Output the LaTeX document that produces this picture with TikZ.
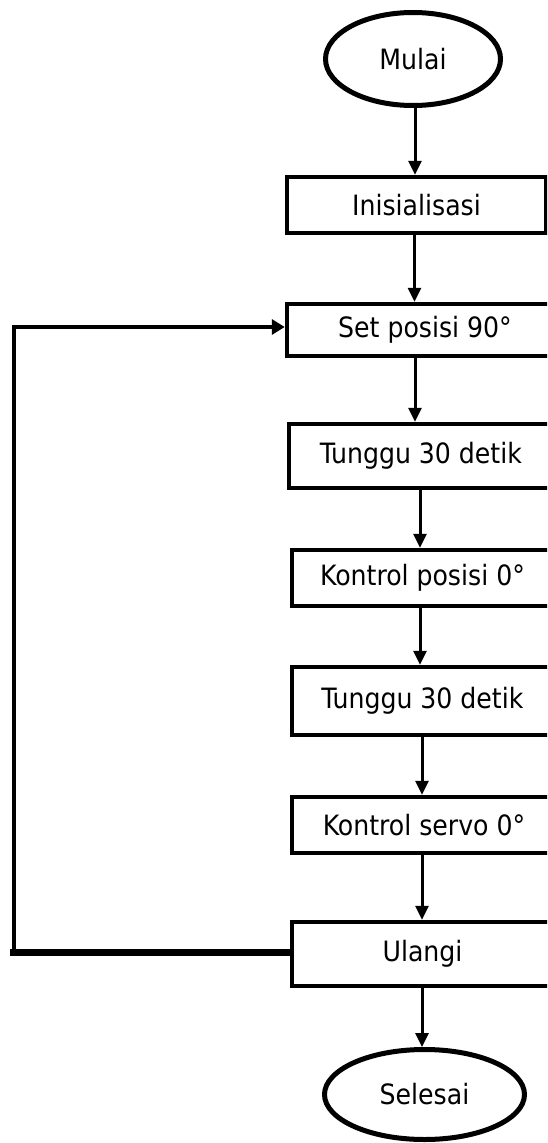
\documentclass[tikz,border=0pt]{standalone}
\usepackage{fontspec}
\setmainfont{DejaVu Sans Condensed}
\usetikzlibrary{arrows.meta,shapes.geometric}

\tikzset{
  every node/.style={font=\fontsize{28}{34}\selectfont, inner sep=0pt},
  terminal/.style={ellipse, draw, line width=5pt},
  process/.style={rectangle, draw, line width=4.5pt},
  arr/.style={line width=3pt, -{Triangle[length=14pt,width=13pt]}},
  looparr/.style={line width=4.5pt, -{Triangle[length=13pt,width=15pt]}},
  loopthin/.style={line width=4.5pt},
  loopthick/.style={line width=7pt},
}

\begin{document}
\begin{tikzpicture}[x=1pt,y=-1pt]
\useasboundingbox (0,0) rectangle (547,1143);
\clip (0,0) rectangle (547,1143);

% flow nodes
\node[terminal, minimum width=175, minimum height=93] (mulai) at (413,59) {Mulai};
\node[process, minimum width=259, minimum height=56] (init) at (416.5,205) {Inisialisasi};
\node[process, minimum width=276, minimum height=52] (set) at (425,330) {Set posisi 90°};
\node[process, minimum width=264, minimum height=64] (tunggua) at (421,456) {Tunggu 30 detik};
\node[process, minimum width=261, minimum height=56] (kpos) at (422.5,578) {Kontrol posisi 0°};
\node[process, minimum width=261, minimum height=68] (tunggub) at (422.5,701) {Tunggu 30 detik};
\node[process, minimum width=264, minimum height=56] (kservo) at (424,825) {Kontrol servo 0°};
\node[process, minimum width=261, minimum height=64] (ulangi) at (422.5,954) {Ulangi};
\node[terminal, minimum width=200, minimum height=90] (selesai) at (424.5,1094.5) {Selesai};

% main flow
\draw[arr] ([xshift=2]mulai.south) -- ([xshift=2]mulai.south |- init.north);
\draw[arr] ([xshift=-2]init.south) -- ([xshift=-2]init.south |- set.north);
\draw[arr] ([xshift=-10]set.south) -- ([xshift=-10]set.south |- tunggua.north);
\draw[arr] ([xshift=-1]tunggua.south) -- ([xshift=-1]tunggua.south |- kpos.north);
\draw[arr] ([xshift=-2.5]kpos.south) -- ([xshift=-2.5]kpos.south |- tunggub.north);
\draw[arr] ([xshift=-0.5]tunggub.south) -- ([xshift=-0.5]tunggub.south |- kservo.north);
\draw[arr] ([xshift=-2]kservo.south) -- ([xshift=-2]kservo.south |- ulangi.north);
\draw[arr] ([xshift=-0.5]ulangi.south) -- ([xshift=-0.5]ulangi.south |- selesai.north);

% loop back from Ulangi to Set posisi
\coordinate (lbot) at (10,952);
\coordinate (lcorner) at (14,952);
\coordinate (ltop) at (14,327);
\draw[loopthick] (ulangi.west |- lbot) -- (lbot);
\draw[loopthin] (lcorner) -- ([yshift=2.25]ltop);
\draw[looparr] (ltop) -- (ltop -| set.west);
\end{tikzpicture}
\end{document}
